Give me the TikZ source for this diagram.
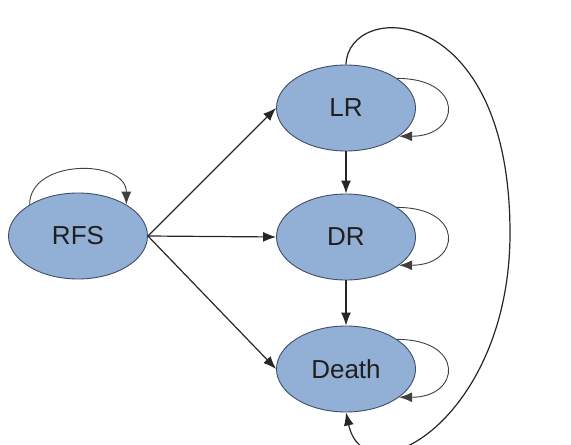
\documentclass[tikz,border=0pt]{standalone}
\usepackage{fontspec}
\setmainfont{Liberation Sans}
\usetikzlibrary{shapes.geometric,arrows.meta}
\definecolor{statefill}{RGB}{146,176,213}
\definecolor{stateline}{RGB}{62,78,104}

\begin{document}
\begin{tikzpicture}[x=1pt,y=1pt,>={Latex[length=13pt,width=10pt]},
    state/.style={ellipse, draw=stateline, fill=statefill, line width=0.9pt,
    minimum width=139pt, minimum height=86pt, inner sep=0pt,
    font=\fontsize{26}{30}\selectfont, text=black!88},
    trans/.style={->, line width=1.2pt, black!85},
    selfloop/.style={->, line width=0.9pt, black!75}]
  \useasboundingbox (0,0) rectangle (571,445);
  \node[state] (RFS) at (78,209) {RFS};
  \node[state] (LR) at (346,337) {LR};
  \node[state] (DR) at (346,208) {DR};
  \node[state] (Death) at (346,76) {Death};
  % transitions
  \draw[trans] (RFS.east) -- (LR.west);
  \draw[trans] (RFS.east) -- (DR.west);
  \draw[trans] (RFS.east) -- (Death.west);
  \draw[trans] (LR.south) -- (DR.north);
  \draw[trans] (DR.south) -- (Death.north);
  % self loops
  \draw[selfloop] (RFS.147) .. controls +(0,46) and +(0,46) .. (RFS.33);
  \draw[selfloop] (LR.30) .. controls +(68,0) and +(62,0) .. (LR.-28);
  \draw[selfloop] (DR.30) .. controls +(68,0) and +(62,0) .. (DR.-28);
  \draw[selfloop] (Death.30) .. controls +(68,0) and +(62,0) .. (Death.-28);
  % LR back to Death
  \draw[trans] (LR.north) .. controls (348,445) and (510,445) .. (510,212)
    .. controls (510,25) and (365,-55) .. (Death.south);
\end{tikzpicture}
\end{document}
